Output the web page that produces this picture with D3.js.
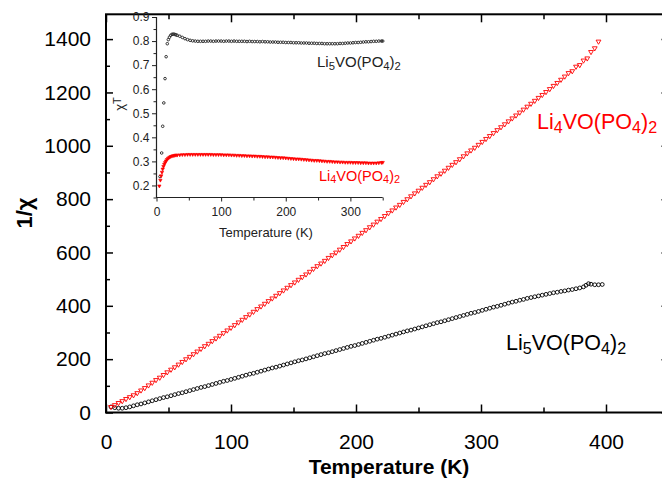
<!DOCTYPE html>
<html>
<head>
<meta charset="utf-8">
<script src="https://cdn.jsdelivr.net/npm/d3@7"></script>
<style>
  body { margin: 0; background: #fff; }
  svg { display: block; font-family: "Liberation Sans", Arial, sans-serif; }
</style>
</head>
<body>
<div id="chart"></div>
<script>
// Main plot: 1/chi against temperature
const li4T = [
  4, 7, 10, 13, 16, 19, 22, 25, 28, 31,
  34, 37, 40, 43, 46, 49, 52, 55, 58, 61,
  64, 67, 70, 73, 76, 79, 82, 85, 88, 91,
  94, 97, 100, 103, 106, 109, 112, 115, 118, 121,
  124, 127, 130, 133, 136, 139, 142, 145, 148, 151,
  154, 157, 160, 163, 166, 169, 172, 175, 178, 181,
  184, 187, 190, 193, 196, 199, 202, 205, 208, 211,
  214, 217, 220, 223, 226, 229, 232, 235, 238, 241,
  244, 247, 250, 253, 256, 259, 262, 265, 268, 271,
  274, 277, 280, 283, 286, 289, 292, 295, 298, 301,
  304, 307, 310, 313, 316, 319, 322, 325, 328, 331,
  334, 337, 340, 343, 346, 349, 352, 355, 358, 361,
  364, 367, 370, 373, 376, 379, 382, 385, 388, 391,
  394
];
const li4InvChi = [
  21, 28, 36, 43, 51, 58, 65, 73, 83, 92,
  102, 112, 122, 131, 141, 151, 161, 170, 180, 190,
  200, 209, 219, 229, 239, 249, 258, 268, 278, 288,
  298, 308, 318, 328, 338, 348, 358, 368, 378, 388,
  398, 408, 418, 428, 438, 448, 458, 468, 478, 488,
  498, 508, 518, 528, 539, 549, 559, 569, 580, 590,
  600, 611, 621, 632, 642, 653, 663, 674, 684, 695,
  705, 716, 726, 737, 748, 758, 769, 779, 790, 800,
  811, 822, 832, 843, 854, 864, 875, 886, 896, 907,
  918, 929, 939, 950, 961, 972, 983, 993, 1004, 1015,
  1026, 1037, 1048, 1059, 1070, 1081, 1092, 1103, 1114, 1125,
  1136, 1147, 1158, 1169, 1180, 1191, 1202, 1213, 1225, 1236,
  1248, 1260, 1273, 1280, 1297, 1303, 1320, 1328, 1352, 1366,
  1391
];

const li5T = [
  4, 7, 10, 13, 16, 19, 22, 25, 28, 31,
  34, 37, 40, 43, 46, 49, 52, 55, 58, 61,
  64, 67, 70, 73, 76, 79, 82, 85, 88, 91,
  94, 97, 100, 103, 106, 109, 112, 115, 118, 121,
  124, 127, 130, 133, 136, 139, 142, 145, 148, 151,
  154, 157, 160, 163, 166, 169, 172, 175, 178, 181,
  184, 187, 190, 193, 196, 199, 202, 205, 208, 211,
  214, 217, 220, 223, 226, 229, 232, 235, 238, 241,
  244, 247, 250, 253, 256, 259, 262, 265, 268, 271,
  274, 277, 280, 283, 286, 289, 292, 295, 298, 301,
  304, 307, 310, 313, 316, 319, 322, 325, 328, 331,
  334, 337, 340, 343, 346, 349, 352, 355, 358, 361,
  364, 367, 370, 373, 376, 379, 382, 384, 386, 388,
  391, 394, 397
];
const li5InvChi = [
  21, 18, 16, 16, 18, 21, 25, 29, 32, 36,
  40, 44, 48, 52, 56, 59, 63, 67, 71, 74,
  78, 82, 86, 90, 94, 97, 101, 105, 109, 113,
  117, 120, 124, 128, 132, 136, 140, 144, 147, 151,
  155, 159, 163, 167, 170, 174, 178, 182, 186, 190,
  194, 197, 201, 205, 209, 213, 217, 221, 224, 228,
  232, 236, 240, 244, 248, 251, 255, 259, 263, 267,
  271, 275, 278, 282, 286, 290, 294, 298, 302, 306,
  309, 313, 317, 321, 325, 329, 333, 337, 340, 344,
  348, 352, 356, 360, 364, 368, 372, 375, 379, 383,
  387, 391, 395, 398, 402, 406, 410, 414, 417, 421,
  424, 428, 431, 434, 437, 440, 443, 446, 449, 451,
  454, 456, 459, 461, 464, 467, 471, 477, 483, 481,
  479, 479, 480
];

// Inset: chi*T against temperature
const insetLi5T = [
  5.4, 8, 9.6, 11.3, 13.2, 14.9, 16.7, 18.3, 20, 22, 24, 26, 28, 30,
  32, 36, 40, 44, 48, 52, 56, 60, 64, 68,
  72, 76, 80, 84, 88, 92, 96, 100, 104, 108,
  112, 116, 120, 124, 128, 132, 136, 140, 144, 148,
  152, 156, 160, 164, 168, 172, 176, 180, 184, 188,
  192, 196, 200, 204, 208, 212, 216, 220, 224, 228,
  232, 236, 240, 244, 248, 252, 256, 260, 264, 268,
  272, 276, 280, 284, 288, 292, 296, 300, 304, 308,
  312, 316, 320, 324, 328, 332, 336, 340, 344, 348, 350
];
const insetLi5ChiT = [
  0.237, 0.335, 0.446, 0.543, 0.644, 0.735, 0.789, 0.806, 0.816, 0.824, 0.828, 0.829, 0.828, 0.826,
  0.824, 0.820, 0.815, 0.810, 0.806, 0.803, 0.801, 0.800, 0.799, 0.799,
  0.799, 0.799, 0.800, 0.800, 0.799, 0.800, 0.800, 0.800, 0.799, 0.800,
  0.800, 0.799, 0.800, 0.799, 0.799, 0.799, 0.799, 0.798, 0.799, 0.798,
  0.798, 0.798, 0.797, 0.798, 0.797, 0.797, 0.796, 0.796, 0.796, 0.795,
  0.795, 0.795, 0.794, 0.794, 0.794, 0.793, 0.793, 0.793, 0.792, 0.792,
  0.792, 0.791, 0.791, 0.791, 0.790, 0.790, 0.790, 0.789, 0.789, 0.789,
  0.789, 0.789, 0.789, 0.790, 0.790, 0.791, 0.792, 0.792, 0.793, 0.794,
  0.794, 0.795, 0.796, 0.797, 0.797, 0.798, 0.799, 0.799, 0.800, 0.800, 0.800
];

const insetLi4T = [
  4.4, 6, 7.3, 8.5, 9.6, 10.8, 12, 13.3, 14.7, 16.2, 18, 20, 22, 24, 26, 28, 30,
  32, 36, 40, 44, 48, 52, 56, 60, 64, 68,
  72, 76, 80, 84, 88, 92, 96, 100, 104, 108,
  112, 116, 120, 124, 128, 132, 136, 140, 144, 148,
  152, 156, 160, 164, 168, 172, 176, 180, 184, 188,
  192, 196, 200, 204, 208, 212, 216, 220, 224, 228,
  232, 236, 240, 244, 248, 252, 256, 260, 264, 268,
  272, 276, 280, 284, 288, 292, 296, 300, 304, 308,
  312, 316, 320, 324, 328, 332, 336, 340, 344, 348, 350
];
const insetLi4ChiT = [
  0.198, 0.222, 0.240, 0.255, 0.268, 0.279, 0.288, 0.295, 0.302, 0.308, 0.313, 0.317, 0.320, 0.322, 0.324, 0.325, 0.326,
  0.326, 0.327, 0.328, 0.328, 0.329, 0.329, 0.329, 0.329, 0.329, 0.329,
  0.329, 0.329, 0.329, 0.329, 0.328, 0.328, 0.328, 0.328, 0.327, 0.327,
  0.327, 0.326, 0.326, 0.325, 0.325, 0.324, 0.324, 0.323, 0.323, 0.322,
  0.322, 0.321, 0.321, 0.320, 0.319, 0.319, 0.318, 0.318, 0.317, 0.316,
  0.315, 0.315, 0.314, 0.313, 0.312, 0.311, 0.310, 0.310, 0.309, 0.308,
  0.307, 0.306, 0.305, 0.304, 0.304, 0.303, 0.302, 0.301, 0.300, 0.300,
  0.299, 0.298, 0.298, 0.297, 0.297, 0.296, 0.296, 0.296, 0.295, 0.295,
  0.295, 0.294, 0.294, 0.294, 0.293, 0.293, 0.293, 0.293, 0.294, 0.295, 0.296
];

const xTicks = [0, 100, 200, 300, 400];
const xMinor = [50, 150, 250, 350, 450];
const yTicks = [0, 200, 400, 600, 800, 1000, 1200, 1400];
const yMinor = [100, 300, 500, 700, 900, 1100, 1300];
const insetXTicks = [0, 100, 200, 300];
const insetXMinor = [50, 150, 250, 350];
const insetYTicks = [0.2, 0.3, 0.4, 0.5, 0.6, 0.7, 0.8, 0.9];
const insetYMinor = [0.15, 0.25, 0.35, 0.45, 0.55, 0.65, 0.75, 0.85];

const RED = "#ff0000";
const INK = "#222";

const svg = d3.select("#chart").append("svg")
  .attr("width", 662).attr("height", 480)
  .attr("font-family", "'Liberation Sans', Arial, sans-serif");

const x = d3.scaleLinear().domain([0, 450]).range([106, 668.5]);
const y = d3.scaleLinear().domain([0, 1493]).range([412.5, 14.3]);

// frame (right side sits just past the picture edge)
svg.append("rect")
  .attr("x", x(0)).attr("y", y(1493))
  .attr("width", x(450) - x(0)).attr("height", y(0) - y(1493))
  .attr("fill", "none").attr("stroke", "#000").attr("stroke-width", 2);

function styleAxis(g, size) {
  g.attr("font-family", null).attr("font-size", size).attr("color", "#000");
  g.select(".domain").remove();
  g.selectAll("line").attr("stroke-width", 1.5);
}

svg.append("g").attr("transform", `translate(${x(0)},0)`)
  .call(d3.axisLeft(y).tickValues(yTicks).tickSize(-7).tickPadding(15).tickFormat(d3.format("d")))
  .call(styleAxis, 21);
svg.append("g").attr("transform", `translate(${x(0)},0)`)
  .call(d3.axisLeft(y).tickValues(yMinor).tickSize(-4).tickFormat(""))
  .call(styleAxis, 21);
svg.append("g").attr("transform", `translate(${x(450)},0)`)
  .call(d3.axisRight(y).tickValues(yTicks).tickSize(-7).tickFormat(""))
  .call(styleAxis, 21);
svg.append("g").attr("transform", `translate(${x(450)},0)`)
  .call(d3.axisRight(y).tickValues(yMinor).tickSize(-4).tickFormat(""))
  .call(styleAxis, 21);

svg.append("g").attr("transform", `translate(0,${y(0)})`)
  .call(d3.axisBottom(x).tickValues(xTicks).tickSize(-8).tickPadding(22).tickFormat(d3.format("d")))
  .call(styleAxis, 21);
svg.append("g").attr("transform", `translate(0,${y(0)})`)
  .call(d3.axisBottom(x).tickValues(xMinor).tickSize(-5).tickFormat(""))
  .call(styleAxis, 21);
svg.append("g").attr("transform", `translate(0,${y(1493)})`)
  .call(d3.axisTop(x).tickValues(xTicks).tickSize(-8).tickFormat(""))
  .call(styleAxis, 21);
svg.append("g").attr("transform", `translate(0,${y(1493)})`)
  .call(d3.axisTop(x).tickValues(xMinor).tickSize(-5).tickFormat(""))
  .call(styleAxis, 21);

// axis titles
svg.append("text")
  .attr("transform", "translate(32,213) rotate(-90)")
  .attr("text-anchor", "middle")
  .attr("font-weight", "bold")
  .attr("font-size", 22)
  .text("1/χ");

svg.append("text")
  .attr("x", 389).attr("y", 474)
  .attr("text-anchor", "middle")
  .attr("font-weight", "bold")
  .attr("font-size", 21)
  .text("Temperature (K)");

// main data
const li4Data = li4T.map((t, i) => ({ t, v: li4InvChi[i] }));
const li5Data = li5T.map((t, i) => ({ t, v: li5InvChi[i] }));

svg.append("g")
  .selectAll("circle")
  .data(li5Data)
  .enter()
  .append("circle")
  .attr("cx", (d) => x(d.t))
  .attr("cy", (d) => y(d.v))
  .attr("r", 1.9)
  .attr("fill", "none")
  .attr("stroke", "#000")
  .attr("stroke-width", 0.9);

const downTri = d3.symbol().type(d3.symbolTriangle).size(10);
svg.append("g")
  .selectAll("path")
  .data(li4Data)
  .enter()
  .append("path")
  .attr("d", downTri)
  .attr("transform", (d) => `translate(${x(d.t)},${y(d.v)}) rotate(180)`)
  .attr("fill", "none")
  .attr("stroke", RED)
  .attr("stroke-width", 0.9);

// chemical formula with subscripts
function formula(g, px, py, size, color, n) {
  const t = g.append("text").attr("x", px).attr("y", py)
    .attr("font-size", size).attr("fill", color);
  const sub = size * 0.75;
  const shift = size * 0.2;
  t.append("tspan").text("Li");
  t.append("tspan").attr("dy", shift).attr("font-size", sub).text(n);
  t.append("tspan").attr("dy", -shift).text("VO(PO");
  t.append("tspan").attr("dy", shift).attr("font-size", sub).text("4");
  t.append("tspan").attr("dy", -shift).text(")");
  t.append("tspan").attr("dy", shift).attr("font-size", sub).text("2");
}

formula(svg, 537, 129, 21.5, RED, "4");
formula(svg, 506, 350, 21.5, "#000", "5");

// Inset
const ix = d3.scaleLinear().domain([0, 350]).range([156.5, 382.7]);
const iy = d3.scaleLinear().domain([0.15, 0.9]).range([197.5, 17]);
const inset = svg.append("g");

inset.append("path")
  .attr("d", `M${ix(0)},${iy(0.9)}V${iy(0.15)}H${ix(350)}`)
  .attr("fill", "none").attr("stroke", INK).attr("stroke-width", 1.2);

function styleInset(g) {
  g.attr("font-family", null).attr("font-size", 12).attr("color", INK);
  g.select(".domain").remove();
  g.selectAll("line").attr("stroke-width", 1);
}

inset.append("g").attr("transform", `translate(${ix(0)},0)`)
  .call(d3.axisLeft(iy).tickValues(insetYTicks).tickSize(4.5).tickPadding(2.5).tickFormat(d3.format(".1f")))
  .call(styleInset);
inset.append("g").attr("transform", `translate(${ix(0)},0)`)
  .call(d3.axisLeft(iy).tickValues(insetYMinor).tickSize(3).tickFormat(""))
  .call(styleInset);
inset.append("g").attr("transform", `translate(0,${iy(0.15)})`)
  .call(d3.axisBottom(ix).tickValues(insetXTicks).tickSize(4).tickPadding(6).tickFormat(d3.format("d")))
  .call(styleInset);
inset.append("g").attr("transform", `translate(0,${iy(0.15)})`)
  .call(d3.axisBottom(ix).tickValues(insetXMinor).tickSize(3).tickFormat(""))
  .call(styleInset);

inset.append("text")
  .attr("x", 266).attr("y", 237)
  .attr("text-anchor", "middle")
  .attr("font-size", 13)
  .attr("fill", INK)
  .text("Temperature (K)");

const chiLabel = inset.append("text")
  .attr("transform", "translate(124,104) rotate(-90)")
  .attr("text-anchor", "middle")
  .attr("font-size", 13)
  .attr("fill", INK);
chiLabel.append("tspan").text("χ");
chiLabel.append("tspan").attr("dy", -3).attr("font-size", 11).text("T");

const insetLi5 = insetLi5T.map((t, i) => ({ t, v: insetLi5ChiT[i] }));
const insetLi4 = insetLi4T.map((t, i) => ({ t, v: insetLi4ChiT[i] }));

inset.append("g")
  .selectAll("circle")
  .data(insetLi5)
  .enter()
  .append("circle")
  .attr("cx", (d) => ix(d.t))
  .attr("cy", (d) => iy(d.v))
  .attr("r", 1.3)
  .attr("fill", "none")
  .attr("stroke", INK)
  .attr("stroke-width", 0.9);

const smallTri = d3.symbol().type(d3.symbolTriangle).size(5);
inset.append("g")
  .selectAll("path")
  .data(insetLi4)
  .enter()
  .append("path")
  .attr("d", smallTri)
  .attr("transform", (d) => `translate(${ix(d.t)},${iy(d.v)}) rotate(180)`)
  .attr("fill", RED)
  .attr("stroke", RED)
  .attr("stroke-width", 0.6);

formula(inset, 317, 67, 15, INK, "5");
formula(inset, 319, 180.5, 14.5, RED, "4");
</script>
</body>
</html>
